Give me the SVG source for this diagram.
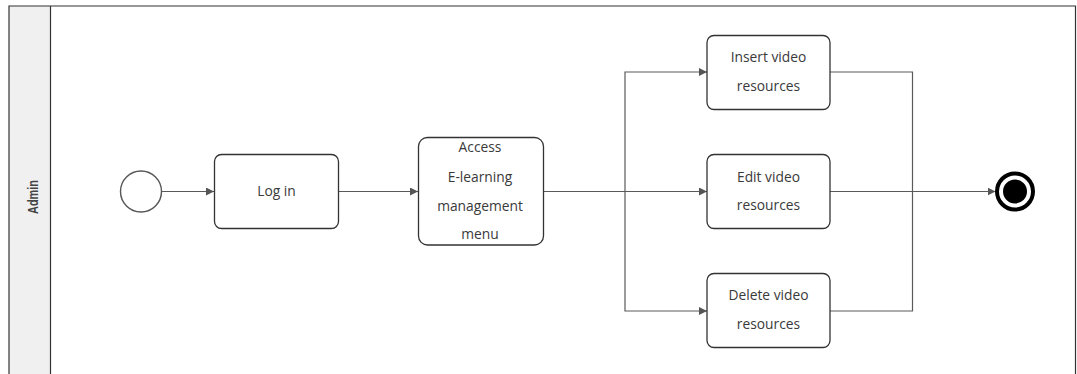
<svg xmlns="http://www.w3.org/2000/svg" width="1077" height="374" viewBox="0 0 1077 374">
  <style>
    .task { fill: #ffffff; stroke: #333333; stroke-width: 1.3; }
    .label { font-family: "Open Sans", "Liberation Sans", sans-serif; font-size: 13.8px; fill: #3a3a3a; text-anchor: middle; }
    .flow { fill: none; stroke: #5a5a5a; stroke-width: 1.2; }
    .lane { fill: none; stroke: #333333; stroke-width: 1.2; }
  </style>
  <defs>
    <marker id="arrow" viewBox="0 0 10 10" refX="10" refY="5" markerWidth="8" markerHeight="8" markerUnits="userSpaceOnUse" orient="auto">
      <path d="M0,0 L10,5 L0,10 z" fill="#555555"/>
    </marker>
  </defs>

  <rect width="1077" height="374" fill="#ffffff"/>

  <!-- swimlane -->
  <g id="lane-admin">
    <rect x="9" y="6" width="41.5" height="372" fill="#f0f0f0" stroke="none"/>
    <path class="lane" d="M9,380 V6 H1075.5 V380 M50.5,6 V380"/>
    <text transform="translate(33,197) rotate(-90)" text-anchor="middle" dominant-baseline="central" font-family="Liberation Sans, Arial, sans-serif" font-weight="bold" font-size="14.5" fill="#444444" textLength="34" lengthAdjust="spacingAndGlyphs">Admin</text>
  </g>

  <!-- connectors -->
  <g id="connectors">
    <path class="flow" d="M161.5,191.5 H214" marker-end="url(#arrow)"/>
    <path class="flow" d="M338,191.5 H418" marker-end="url(#arrow)"/>
    <path class="flow" d="M543,191.5 H707" marker-end="url(#arrow)"/>
    <path class="flow" d="M625,191.5 V72 H707" marker-end="url(#arrow)"/>
    <path class="flow" d="M625,191.5 V311 H707" marker-end="url(#arrow)"/>
    <path class="flow" d="M830,72 H912.5 V311 H830"/>
    <path class="flow" d="M830,191.5 H995.5" marker-end="url(#arrow)"/>
  </g>

  <!-- start event -->
  <g id="start">
    <circle cx="141" cy="191.5" r="20.5" fill="#ffffff" stroke="#555555" stroke-width="1.4"/>
  </g>

  <g id="login">
    <rect class="task" x="214.5" y="154.5" width="124" height="74" rx="7"/>
    <text class="label" x="276.5" y="196">Log in</text>
  </g>

  <g id="access-menu">
    <rect class="task" x="418.5" y="137.5" width="125" height="107.5" rx="9"/>
    <text class="label" x="480" y="152">Access</text>
    <text class="label" x="480" y="181.5">E-learning</text>
    <text class="label" x="480" y="211">management</text>
    <text class="label" x="480" y="239">menu</text>
  </g>

  <g id="insert-video">
    <rect class="task" x="707" y="35.5" width="123" height="74" rx="7"/>
    <text class="label" x="768.5" y="62">Insert video</text>
    <text class="label" x="768.5" y="90.5">resources</text>
  </g>

  <g id="edit-video">
    <rect class="task" x="707" y="154.5" width="123" height="74" rx="7"/>
    <text class="label" x="768.5" y="181.5">Edit video</text>
    <text class="label" x="768.5" y="210">resources</text>
  </g>

  <g id="delete-video">
    <rect class="task" x="707" y="273.5" width="123" height="74" rx="7"/>
    <text class="label" x="768.5" y="300">Delete video</text>
    <text class="label" x="768.5" y="329">resources</text>
  </g>

  <!-- end event -->
  <g id="end">
    <circle cx="1015" cy="191.5" r="18" fill="#ffffff" stroke="#000000" stroke-width="4"/>
    <circle cx="1015" cy="191.5" r="12" fill="#000000"/>
  </g>
</svg>
